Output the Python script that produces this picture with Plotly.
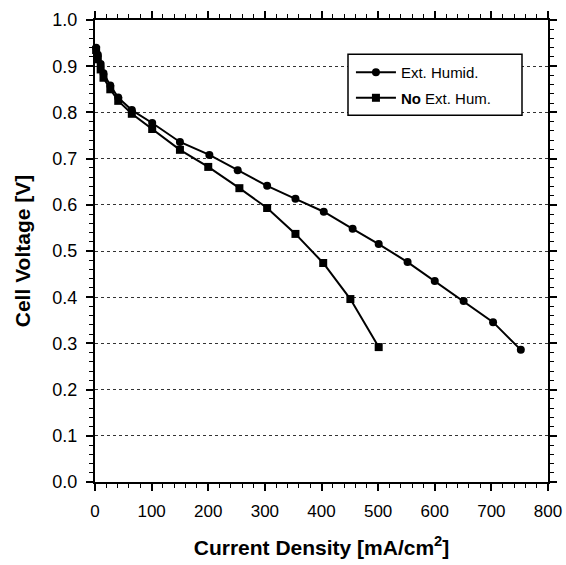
import plotly.graph_objects as go

# Ext. Humid. (circles)
ext_j = [2, 5, 10, 15, 27, 41, 65, 101, 150, 202, 252, 304, 354, 404, 455, 501, 552, 600, 651, 703, 752]
ext_v = [0.94, 0.925, 0.905, 0.885, 0.858, 0.832, 0.805, 0.777, 0.736, 0.708, 0.675, 0.641, 0.613, 0.585, 0.548, 0.515, 0.476, 0.435, 0.392, 0.346, 0.286]

# No Ext. Hum. (squares)
no_j = [2, 5, 10, 15, 27, 41, 65, 101, 150, 200, 255, 304, 354, 403, 451, 501]
no_v = [0.935, 0.915, 0.893, 0.875, 0.85, 0.825, 0.797, 0.764, 0.719, 0.682, 0.636, 0.593, 0.537, 0.474, 0.396, 0.292]

x_ticks = [0, 100, 200, 300, 400, 500, 600, 700, 800]
y_ticks = [0.0, 0.1, 0.2, 0.3, 0.4, 0.5, 0.6, 0.7, 0.8, 0.9, 1.0]

fig = go.Figure()
fig.add_trace(go.Scatter(
    x=ext_j, y=ext_v, mode="lines+markers", name="Ext. Humid.",
    legendgroup="a",
    line=dict(color="black", width=2),
    marker=dict(symbol="circle", size=8, color="black"),
    cliponaxis=False,
))
fig.add_trace(go.Scatter(
    x=no_j, y=no_v, mode="lines+markers", name="<b>No</b> Ext. Hum.",
    legendgroup="b",
    line=dict(color="black", width=2),
    marker=dict(symbol="square", size=8, color="black"),
    cliponaxis=False,
))

font_family = "Liberation Sans, Arial, sans-serif"

# legend frame drawn as a shape for extra padding
fig.add_shape(type="rect", xref="paper", yref="paper",
              x0=0.5585, x1=0.9426, y0=0.794, y1=0.926,
              line=dict(color="black", width=1.5), fillcolor="white", layer="above")

fig.update_layout(
    width=566, height=565,
    margin=dict(l=95, r=18, t=20, b=83),
    paper_bgcolor="white", plot_bgcolor="white",
    font=dict(family=font_family, color="black", size=15),
    showlegend=True,
    legend=dict(
        x=0.565, y=0.922, xanchor="left", yanchor="top",
        borderwidth=0, bgcolor="rgba(0,0,0,0)",
        font=dict(size=15, family=font_family),
        tracegroupgap=3, itemwidth=40,
    ),
    xaxis=dict(
        range=[0, 800], tickvals=x_ticks, ticktext=[str(v) for v in x_ticks],
        showline=True, linecolor="black", linewidth=2, mirror="ticks",
        ticks="outside", ticklen=7, tickwidth=1.5, tickcolor="black",
        minor=dict(dtick=20, ticks="outside", ticklen=4, tickwidth=1, tickcolor="black"),
        showgrid=False, zeroline=False, automargin=False,
        ticklabelstandoff=6,
        tickfont=dict(size=17, family=font_family),
        title=dict(text="<b>Current Density [mA/cm<sup>2</sup>]</b>", font=dict(size=21), standoff=20),
    ),
    yaxis=dict(
        range=[0, 1.0], tickvals=y_ticks, ticktext=[f"{v:.1f}" for v in y_ticks],
        showline=True, linecolor="black", linewidth=2, mirror="ticks",
        ticks="outside", ticklen=7, tickwidth=1.5, tickcolor="black",
        minor=dict(dtick=0.02, ticks="outside", ticklen=4, tickwidth=1, tickcolor="black"),
        showgrid=True, gridcolor="#333333", gridwidth=1, griddash="dot",
        zeroline=False, automargin=False,
        ticklabelstandoff=5,
        tickfont=dict(size=18, family=font_family),
        title=dict(text="<b>Cell Voltage [V]</b>", font=dict(size=21), standoff=16),
    ),
)

fig.write_html("out.html")
